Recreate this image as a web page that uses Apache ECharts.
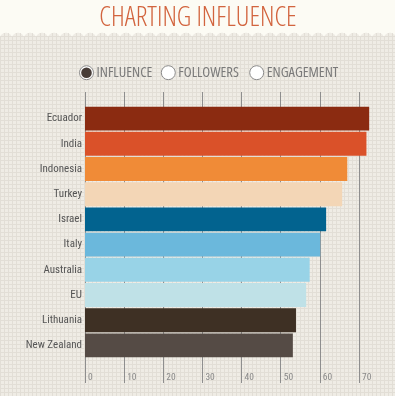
<!DOCTYPE html>
<html>
<head>
<meta charset="utf-8">
<script src="https://cdn.jsdelivr.net/npm/echarts@6/dist/echarts.min.js"></script>
<style>
html,body{margin:0;padding:0;}
body{width:395px;height:396px;position:relative;overflow:hidden;
 background-color:#EFECE5;
 background-image:linear-gradient(#E2DED6 1px, transparent 1px),linear-gradient(90deg,#E2DED6 1px, transparent 1px);
 background-size:4px 4px;}
#cream{position:absolute;left:0;top:0;width:395px;height:31px;background:#FCFBF4;}
#scallop{position:absolute;left:0;top:31px;width:395px;height:6px;
 background:radial-gradient(circle at 6px 8px, transparent 6px, #FCFBF4 6.6px);background-size:12px 6px;background-repeat:repeat-x;}
#main{position:absolute;left:0;top:0;width:395px;height:396px;}
</style>
</head>
<body>
<div id="cream"></div>
<div id="scallop"></div>
<div id="main"></div>
<script>
var categories = ['Ecuador','India','Indonesia','Turkey','Israel','Italy','Australia','EU','Lithuania','New Zealand'];
var influence = [72.6, 71.9, 67.0, 65.7, 61.6, 60.1, 57.4, 56.5, 53.9, 53.1];
var legendLabels = ['INFLUENCE','FOLLOWERS','ENGAGEMENT'];
var xTicks = [0,10,20,30,40,50,60,70];
var barColors = ['#8B2B11','#DA5129','#F08B37','#F3D6B6','#02638F','#6BB8DC','#98D3E7','#BFE1E7','#3E3024','#554B45'];

var chart = echarts.init(document.getElementById('main'), null, {renderer:'canvas'});

var legendX = [86.5, 168.3, 256.7];
var legendGraphics = [];
legendLabels.forEach(function(t,i){
  legendGraphics.push({type:'circle', shape:{cx:legendX[i], cy:72.7, r:7}, style:{fill:'#FFFFFF', stroke:'#8A8A8A', lineWidth:1}});
  if(i===0){
    legendGraphics.push({type:'circle', shape:{cx:legendX[i], cy:72.7, r:5.3}, style:{fill:'#473C37'}});
  }
  legendGraphics.push({type:'text', x:legendX[i]+10, y:73, style:{text:t, fill:'#7A7A7A', font:'normal condensed 14.5px "Open Sans"', textAlign:'left', textVerticalAlign:'middle'}});
});

var option = {
  animation:false,
  backgroundColor:'transparent',
  graphic: [
    {type:'text', x:198, y:18, style:{text:'CHARTING INFLUENCE', fill:'#D2643E', font:'normal 300 condensed 27.3px "Open Sans"', textAlign:'center', textVerticalAlign:'middle'}}
  ].concat(legendGraphics),
  grid:[
    {left:85, right:36, top:92, bottom:13},
    {left:85, right:36, top:106, bottom:38}
  ],
  xAxis:[
    {gridIndex:0, type:'value', min:xTicks[0], max:xTicks[xTicks.length-1], interval:10,
     axisLine:{show:false}, axisTick:{show:false},
     splitLine:{show:true, lineStyle:{color:'#8E8E8E', width:1}},
     axisLabel:{inside:true, margin:0, align:'left', padding:[0,0,0,3], color:'#8A8A8A', fontSize:9.5, fontWeight:'condensed', fontFamily:'Roboto'}},
    {gridIndex:1, type:'value', min:0, max:70, show:false}
  ],
  yAxis:[
    {gridIndex:0, type:'value', show:false, min:0, max:1},
    {gridIndex:1, type:'category', data:categories, inverse:true,
     axisLine:{show:false}, axisTick:{show:false}, splitLine:{show:false},
     axisLabel:{margin:3, color:'#555555', fontSize:11, fontWeight:'condensed', fontFamily:'Roboto'}}
  ],
  series:[
    {type:'bar', xAxisIndex:1, yAxisIndex:1, clip:false, barCategoryGap:'5%',
     data: influence.map(function(v,i){return {value:v, itemStyle:{color:barColors[i]}};})}
  ]
};
chart.setOption(option);
</script>
</body>
</html>
